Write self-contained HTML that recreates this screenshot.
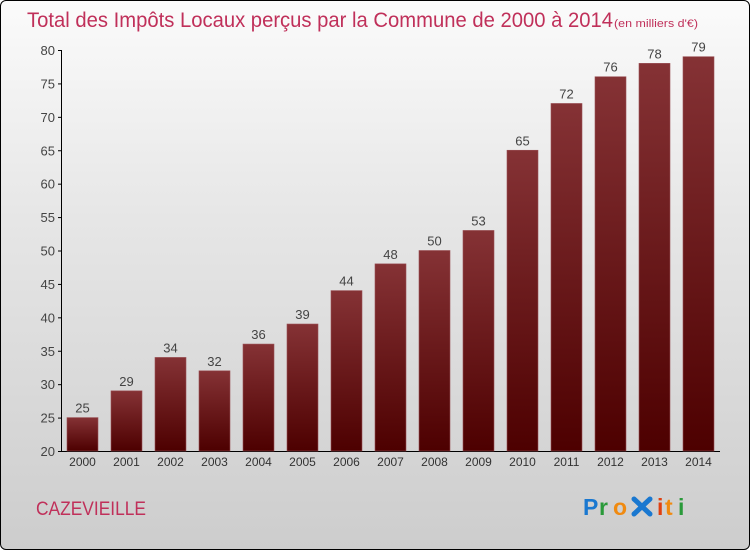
<!DOCTYPE html>
<html><head><meta charset="utf-8"><style>
html,body{margin:0;padding:0}
body{width:750px;height:550px;overflow:hidden;font-family:"Liberation Sans",sans-serif}
#frame{position:absolute;left:0;top:0;width:748px;height:548px;border:1px solid #000;border-radius:6px;background:linear-gradient(#fbfbfb,#e6e6e6 40%,#cdcdcd)}
</style></head><body>
<div id="frame"></div>
<svg id="chart" width="750" height="550" style="position:absolute;left:0;top:0">
<defs><linearGradient id="bg" x1="0" y1="0" x2="0" y2="1"><stop offset="0" stop-color="#853235"/><stop offset="1" stop-color="#4d0000"/></linearGradient></defs>
<text x="27" y="27" font-size="21" fill="#c0305a" textLength="586" lengthAdjust="spacingAndGlyphs">Total des Impôts Locaux perçus par la Commune de 2000 à 2014</text>
<text x="614" y="27" font-size="11" fill="#c0305a" textLength="84" lengthAdjust="spacingAndGlyphs">(en milliers d'€)</text>
<text x="36" y="515" font-size="19" fill="#c0305a" textLength="110" lengthAdjust="spacingAndGlyphs">CAZEVIEILLE</text>
<g font-size="23" font-weight="bold">
<text x="583" y="515" fill="#1a78d0">P</text><text x="599" y="515" fill="#2a9a3a">r</text><text x="613" y="515" fill="#f08a10">o</text>
<g stroke="#1a78d0" stroke-width="5" stroke-linecap="round"><line x1="634" y1="499" x2="650" y2="514"/><line x1="650" y1="499" x2="634" y2="514"/></g>
<text x="657" y="515" fill="#e04010">i</text><text x="665" y="515" fill="#f08a10">t</text><text x="678" y="515" fill="#2a9a3a">i</text>
</g>
<g id="plot"></g>
</svg>
<script>
const years=["2000","2001","2002","2003","2004","2005","2006","2007","2008","2009","2010","2011","2012","2013","2014"];
const values=[25,29,34,32,36,39,44,48,50,53,65,72,76,78,79];
const yTicks=[20,25,30,35,40,45,50,55,60,65,70,75,80];
const ns="http://www.w3.org/2000/svg";
const g=document.getElementById('plot');
const y=v=>451-(v-20)*(401/60);
const x=i=>67+i*44;
function mk(t,a){const e=document.createElementNS(ns,t);for(const k in a)e.setAttribute(k,a[k]);g.appendChild(e);return e;}
let ax=mk('line',{x1:61.5,y1:50,x2:61.5,y2:451,stroke:'#000'});


let bx=mk('line',{x1:61,y1:451.5,x2:720,y2:451.5,stroke:'#000'});


yTicks.forEach(v=>{
 const t=mk('line',{x1:58,x2:62,y1:y(v)+0.5,y2:y(v)+0.5,stroke:'#000'});
 
 
 const l=mk('text',{x:55,y:y(v)+5,'font-size':13,fill:'#444','text-anchor':'end'});
 l.textContent=v;
 
 
});
values.forEach((v,i)=>{
 const r=mk('rect',{x:x(i),y:y(v),width:31,height:451-y(v),fill:'url(#bg)',stroke:'#9a5055','stroke-width':0.6});
 
 
 const l=mk('text',{x:x(i)+15.5,y:y(v)-5,'font-size':13,fill:'#444','text-anchor':'middle'});
 l.textContent=v;
 
 
 const xl=mk('text',{x:x(i)+15.5,y:466,'font-size':12,fill:'#333','text-anchor':'middle'});
 xl.textContent=years[i];
 
 
});
</script>
</body></html>
